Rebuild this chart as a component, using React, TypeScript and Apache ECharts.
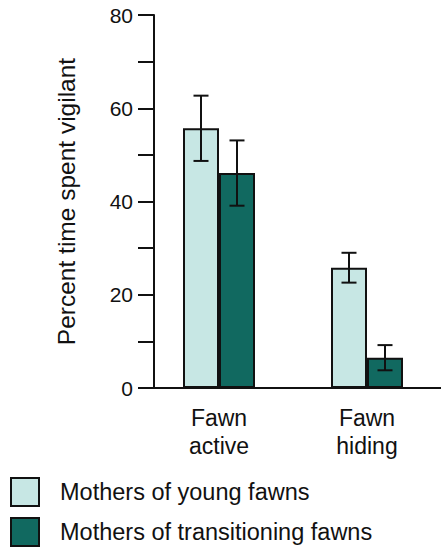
import React, { useEffect, useRef } from "react";
import * as echarts from "echarts";

const categories = ["Fawn\nactive", "Fawn\nhiding"];
const seriesNames = ["Mothers of young fawns", "Mothers of transitioning fawns"];
const youngMeans = [55.7, 25.8];
const youngErr = [7.0, 3.2];
const transMeans = [46.1, 6.5];
const transErr = [7.0, 2.7];
const yTicks = [0, 20, 40, 60, 80];

const FONT = "'Liberation Sans', Arial, Helvetica, sans-serif";
const LIGHT = "#c7e7e4";
const DARK = "#116960";
const INK = "#111111";
const BAR_W = 36;

function errorSeries(name: string, means: number[], errs: number[], shift: number) {
  return {
    type: "custom",
    name,
    z: 5,
    data: means.map((m, i) => [i, m - errs[i], m + errs[i]]),
    renderItem: (params: any, api: any) => {
      const lo = api.coord([api.value(0), api.value(1)]);
      const hi = api.coord([api.value(0), api.value(2)]);
      const x = lo[0] + shift;
      const cap = 7.5;
      const style = { stroke: INK, lineWidth: 2, fill: "none" };
      return {
        type: "group",
        children: [
          { type: "line", shape: { x1: x, y1: lo[1], x2: x, y2: hi[1] }, style },
          { type: "line", shape: { x1: x - cap, y1: lo[1], x2: x + cap, y2: lo[1] }, style },
          { type: "line", shape: { x1: x - cap, y1: hi[1], x2: x + cap, y2: hi[1] }, style },
        ],
      };
    },
  };
}

function legendFor(name: string, top: number) {
  return {
    orient: "vertical",
    left: 10,
    top,
    padding: 0,
    itemWidth: 28,
    itemHeight: 28,
    icon: "rect",
    data: [name],
    itemStyle: { borderColor: INK, borderWidth: 2 },
    textStyle: { fontSize: 23.5, color: INK, fontFamily: FONT, padding: [0, 0, 0, 16] },
  };
}

export default function App() {
  const ref = useRef<HTMLDivElement>(null);
  useEffect(() => {
    document.body.style.margin = "0";
    const chart = echarts.init(ref.current!, null, { renderer: "svg" });
    chart.setOption({
      animation: false,
      textStyle: { fontFamily: FONT, color: INK },
      grid: { left: 145, right: 0, top: 15, bottom: 160 },
      legend: [legendFor(seriesNames[0], 477), legendFor(seriesNames[1], 517)],
      xAxis: {
        type: "category",
        data: categories,
        axisLine: { lineStyle: { color: INK, width: 2 } },
        axisTick: { show: false },
        axisLabel: { fontSize: 23, lineHeight: 28, margin: 16, color: INK, fontFamily: FONT },
      },
      yAxis: {
        type: "value",
        min: 0,
        max: 80,
        interval: 10,
        offset: -9,
        splitLine: { show: false },
        axisLine: { show: true, lineStyle: { color: INK, width: 2 } },
        axisTick: { show: true, length: 16, lineStyle: { color: INK, width: 2 } },
        axisLabel: {
          fontSize: 21,
          margin: 21,
          color: INK,
          fontFamily: FONT,
          formatter: (v: number) => (yTicks.indexOf(v) >= 0 ? String(v) : ""),
        },
        name: "Percent time spent vigilant",
        nameLocation: "middle",
        nameRotate: 90,
        nameGap: 75,
        nameTextStyle: { fontSize: 24.5, color: INK, fontFamily: FONT },
      },
      series: [
        {
          type: "bar",
          name: seriesNames[0],
          data: youngMeans,
          barWidth: BAR_W,
          barGap: "0%",
          itemStyle: { color: LIGHT, borderColor: INK, borderWidth: 2 },
        },
        {
          type: "bar",
          name: seriesNames[1],
          data: transMeans,
          barWidth: BAR_W,
          barGap: "0%",
          itemStyle: { color: DARK, borderColor: INK, borderWidth: 2 },
        },
        errorSeries("err-young", youngMeans, youngErr, -BAR_W / 2),
        errorSeries("err-trans", transMeans, transErr, BAR_W / 2),
      ],
    });
    return () => chart.dispose();
  }, []);
  return <div ref={ref} style={{ width: 441, height: 548 }} />;
}
